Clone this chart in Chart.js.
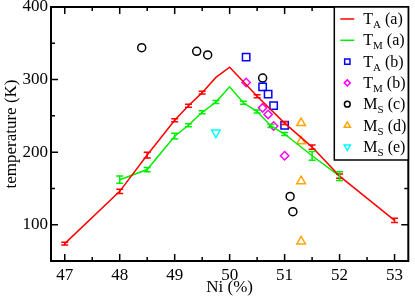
<!DOCTYPE html>
<html>
<head>
<meta charset="utf-8">
<script src="https://cdn.jsdelivr.net/npm/chart.js@4/dist/chart.umd.min.js"></script>
<style>
  html, body { margin: 0; padding: 0; background: #fff; }
</style>
</head>
<body>
<canvas id="tempChart" width="415" height="298"></canvas>
<script>
// dati
const niA = [47, 48, 48.5, 49, 49.25, 49.5, 49.75, 50, 50.5, 51, 51.5, 52, 53];
const taA = [74, 146, 196, 244, 264, 282, 303, 317, 277, 240, 207, 167, 106];
const taAErr = [2, 3, 4, 2, 2, 2, null, null, 2, 2, 3, 3, 3];

const niM = [48, 48.5, 49, 49.25, 49.5, 49.75, 50, 50.25, 50.5, 50.75, 51, 51.5, 52];
const tmA = [162, 176, 222, 237, 255, 269, 290, 268, 256, 236, 225, 195, 167];
const tmAErr = [5, 3, 4, 2, 2, 2, null, 2, 2, 2, 2, 6, 6];

const niB = [50.3, 50.6, 50.7, 50.8, 51.0];
const taB = [331, 290, 280, 264, 237];
const tmB = [296, 261, 252, 236, 195];

const niC = [48.4, 49.4, 49.6, 50.6, 51.1, 51.15];
const msC = [344, 339, 334, 302, 139, 118];

const niD = [51.3, 51.3, 51.3, 51.3];
const msD = [240, 215, 160, 77];

const niE = [49.75];
const msE = [227];

const xTicks = [47, 48, 49, 50, 51, 52, 53];
const xMinor = [47.5, 48.5, 49.5, 50.5, 51.5, 52.5];
const yTicks = [100, 200, 300, 400];
const yMinor = [150, 250, 350];

// etichette legenda: testo, pedice, coda
const legendItems = [
    ['T', 'A', ' (a)'],
    ['T', 'M', ' (a)'],
    ['T', 'A', ' (b)'],
    ['T', 'M', ' (b)'],
    ['M', 'S', ' (c)'],
    ['M', 'S', ' (d)'],
    ['M', 'S', ' (e)']
];

const pts = (xs, ys) => xs.map((x, i) => ({ x: x, y: ys[i] }));
const FONT = 'Liberation Serif';

// barre d'errore
const errorBars = {
    id: 'errorBars',
    afterDatasetsDraw(chart) {
        const c = chart.ctx, xs = chart.scales.x, ys = chart.scales.y;
        chart.data.datasets.forEach(ds => {
            if (!ds.errors) return;
            c.save();
            c.strokeStyle = ds.borderColor;
            c.lineWidth = 1.5;
            ds.data.forEach((p, i) => {
                const e = ds.errors[i];
                if (e == null) return;
                const px = xs.getPixelForValue(p.x);
                const y1 = ys.getPixelForValue(p.y + e);
                const y2 = ys.getPixelForValue(p.y - e);
                c.beginPath();
                c.moveTo(px, y1); c.lineTo(px, y2);
                c.moveTo(px - 3.5, y1); c.lineTo(px + 3.5, y1);
                c.moveTo(px - 3.5, y2); c.lineTo(px + 3.5, y2);
                c.stroke();
            });
            c.restore();
        });
    }
};

// cornice e tacche verso l'interno
const frame = {
    id: 'frame',
    afterDraw(chart) {
        const c = chart.ctx, a = chart.chartArea, xs = chart.scales.x, ys = chart.scales.y;
        c.save();
        c.strokeStyle = '#000';
        c.lineWidth = 1.5;
        c.beginPath();
        const tickX = (v, len) => {
            const p = xs.getPixelForValue(v);
            c.moveTo(p, a.bottom); c.lineTo(p, a.bottom - len);
            c.moveTo(p, a.top); c.lineTo(p, a.top + len);
        };
        const tickY = (v, len) => {
            const p = ys.getPixelForValue(v);
            c.moveTo(a.left, p); c.lineTo(a.left + len, p);
            c.moveTo(a.right, p); c.lineTo(a.right - len, p);
        };
        xTicks.forEach(v => tickX(v, 7));
        xMinor.forEach(v => tickX(v, 4));
        yTicks.forEach(v => tickY(v, 7));
        yMinor.forEach(v => tickY(v, 4));
        c.stroke();
        c.lineWidth = 2;
        c.strokeRect(a.left, a.top, a.right - a.left, a.bottom - a.top);
        c.restore();
    }
};

// legenda con pedici
const subLegend = {
    id: 'subLegend',
    afterDraw(chart) {
        const c = chart.ctx, a = chart.chartArea;
        const bw = 74, bh = 153;
        const bx = a.right - bw, by = a.top;
        c.save();
        c.fillStyle = '#fff';
        c.fillRect(bx, by, bw, bh);
        c.strokeStyle = '#000';
        c.lineWidth = 1.5;
        c.strokeRect(bx, by, bw, bh);
        legendItems.forEach((it, i) => {
            const ds = chart.data.datasets[i];
            const cy = by + 12 + i * 21.3;
            const sx = bx + 13;
            if (ds.showLine) {
                c.strokeStyle = ds.borderColor;
                c.lineWidth = 1.5;
                c.beginPath();
                c.moveTo(bx + 6, cy); c.lineTo(bx + 20, cy);
                c.stroke();
            } else {
                c.lineWidth = 1.5;
                c.strokeStyle = ds.borderColor;
                c.fillStyle = 'rgba(0,0,0,0)';
                Chart.helpers.drawPoint(c, {
                    pointStyle: ds.pointStyle,
                    radius: ds.pointRadius * 0.72,
                    rotation: ds.rotation || 0,
                    borderWidth: 1.5
                }, sx, cy);
            }
            c.fillStyle = '#000';
            c.textBaseline = 'alphabetic';
            let tx = bx + 29;
            c.font = '16px "' + FONT + '"';
            c.fillText(it[0], tx, cy + 5);
            tx += c.measureText(it[0]).width;
            c.font = '11px "' + FONT + '"';
            c.fillText(it[1], tx, cy + 9);
            tx += c.measureText(it[1]).width;
            c.font = '16px "' + FONT + '"';
            c.fillText(it[2], tx, cy + 5);
        });
        c.restore();
    }
};

const ctx = document.getElementById('tempChart').getContext('2d');
const tempChart = new Chart(ctx, {
    type: 'scatter',
    data: {
        datasets: [
            { label: 'TA (a)', data: pts(niA, taA), errors: taAErr, showLine: true, borderColor: '#ff0000', borderWidth: 1.5, pointRadius: 0, fill: false },
            { label: 'TM (a)', data: pts(niM, tmA), errors: tmAErr, showLine: true, borderColor: '#00ee00', borderWidth: 1.5, pointRadius: 0, fill: false },
            { label: 'TA (b)', data: pts(niB, taB), pointStyle: 'rect', pointRadius: 5.2, borderColor: '#0000ff', backgroundColor: 'rgba(0,0,0,0)', borderWidth: 1.5 },
            { label: 'TM (b)', data: pts(niB, tmB), pointStyle: 'rectRot', pointRadius: 4.2, borderColor: '#ff00ff', backgroundColor: 'rgba(0,0,0,0)', borderWidth: 1.5 },
            { label: 'MS (c)', data: pts(niC, msC), pointStyle: 'circle', pointRadius: 4, borderColor: '#000000', backgroundColor: 'rgba(0,0,0,0)', borderWidth: 1.5 },
            { label: 'MS (d)', data: pts(niD, msD), pointStyle: 'triangle', pointRadius: 5, borderColor: '#ffa500', backgroundColor: 'rgba(0,0,0,0)', borderWidth: 1.5 },
            { label: 'MS (e)', data: pts(niE, msE), pointStyle: 'triangle', rotation: 180, pointRadius: 5, borderColor: '#00ffff', backgroundColor: 'rgba(0,0,0,0)', borderWidth: 1.5 }
        ]
    },
    options: {
        responsive: false,
        animation: false,
        layout: { padding: { top: 7, right: 2, left: 0, bottom: 0 } },
        plugins: { legend: { display: false }, tooltip: { enabled: false } },
        elements: { line: { tension: 0 } },
        scales: {
            x: {
                type: 'linear', min: 46.75, max: 53.25,
                grid: { display: false, drawTicks: false },
                border: { display: false },
                afterBuildTicks: s => { s.ticks = xTicks.map(v => ({ value: v })); },
                afterFit: s => { s.height = 37; s.paddingLeft = 0; s.paddingRight = 0; },
                ticks: { color: '#000', font: { family: FONT, size: 17 }, padding: 4, maxRotation: 0, autoSkip: false },
                title: { display: true, text: 'Ni (%)', color: '#000', font: { family: FONT, size: 17 }, padding: 0 }
            },
            y: {
                type: 'linear', min: 50, max: 400,
                grid: { display: false, drawTicks: false },
                border: { display: false },
                afterBuildTicks: s => { s.ticks = yTicks.map(v => ({ value: v })); },
                afterFit: s => { s.width = 51; s.paddingTop = 0; s.paddingBottom = 0; },
                ticks: { color: '#000', font: { family: FONT, size: 17 }, padding: 3, autoSkip: false },
                title: { display: true, text: 'temperature (K)', color: '#000', font: { family: FONT, size: 17 }, padding: { top: 1 } }
            }
        }
    },
    plugins: [errorBars, frame, subLegend]
});
</script>
</body>
</html>
